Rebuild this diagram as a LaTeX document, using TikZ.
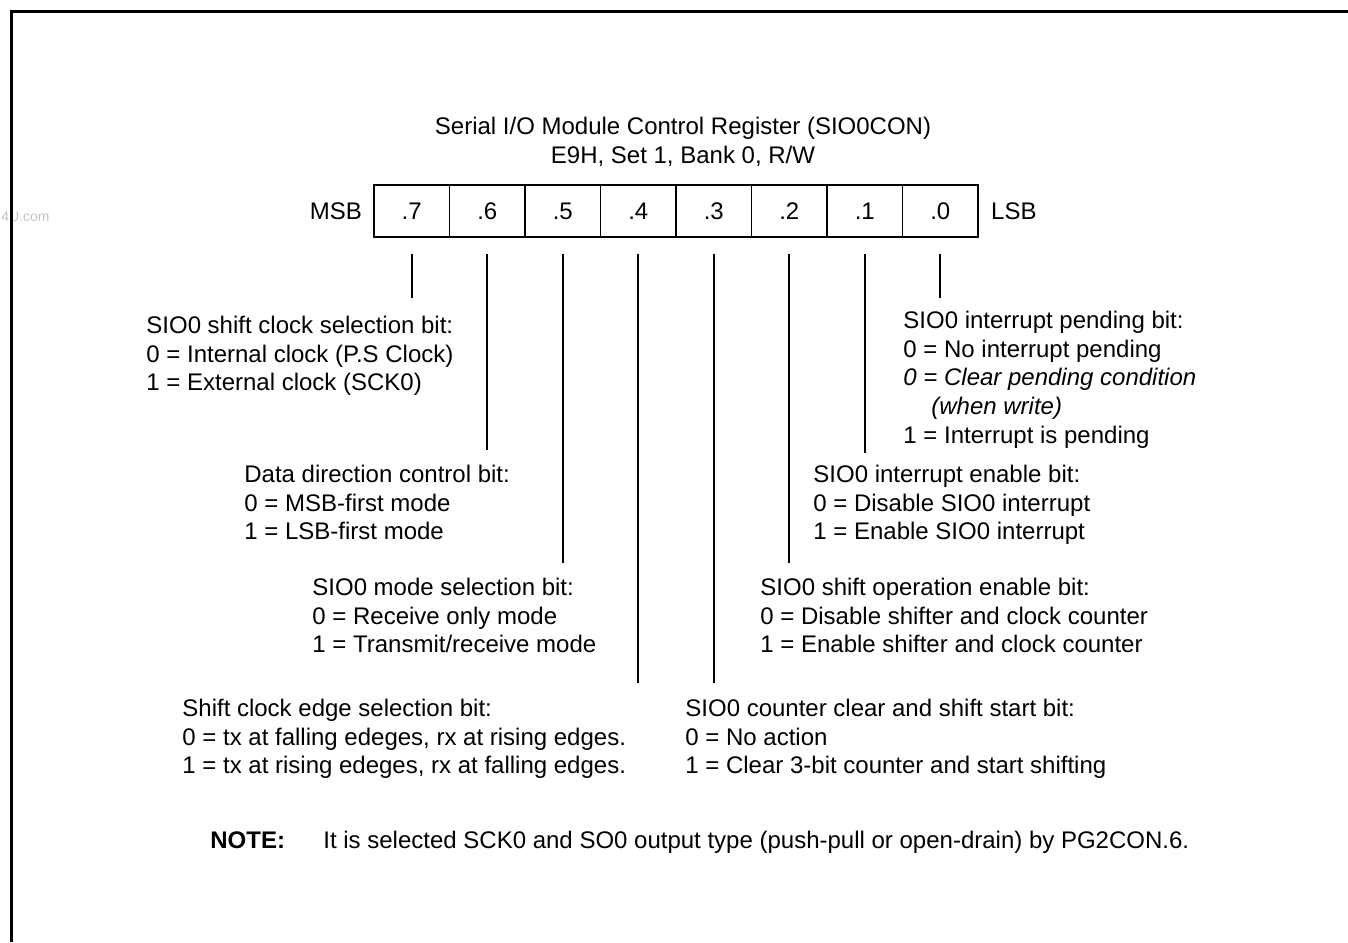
\documentclass[tikz,border=0pt]{standalone}
\usepackage{fontspec}
\setmainfont{Liberation Sans}
\usepackage{tikz}
\usetikzlibrary{positioning,calc}
\definecolor{Mark}{HTML}{C4C4C4}

\begin{document}
\begin{tikzpicture}[x=0.5pt,y=-0.5pt,
    bitcell/.style={rectangle,draw,line width=0.8pt,minimum width=37.75pt,minimum height=26pt,inner sep=0pt,font=\fontsize{12}{14.35}\selectfont},
    leader/.style={line width=0.9pt},
    desc/.style={anchor=north west,align=left,inner sep=0pt,font=\fontsize{12}{14.35}\selectfont},
    plain/.style={inner sep=0pt,font=\fontsize{12}{14.35}\selectfont}
]
\useasboundingbox (0,0) rectangle (1348,942);
\node[plain,anchor=west,text=Mark,font=\fontsize{7}{8}\selectfont] (mark) at (1,217) {4U.com};
\draw[line width=1.5pt] (11,942) -- (11,11) -- (1348,11);

% register
\node[desc,anchor=north,align=center] (title) at (683,114) {\strut Serial I/O Module Control Register (SIO0CON)\\E9H, Set 1, Bank 0, R/W};
\foreach \i in {0,...,7}{
    \node[bitcell] (b\i) at ({411.75+(7-\i)*75.5},211) {.\i};
}
\node[plain,left=5.5pt of b7] (msb) {MSB};
\node[plain,right=6pt of b0] (lsb) {LSB};

% bit descriptions
\node[desc] (d7) at (146,313) {\strut SIO0 shift clock selection bit:\\0 = Internal clock (P.S Clock)\\1 = External clock (SCK0)};
\node[desc] (d6) at (244,462) {\strut Data direction control bit:\\0 = MSB-first mode\\1 = LSB-first mode};
\node[desc] (d5) at (312,575) {\strut SIO0 mode selection bit:\\0 = Receive only mode\\1 = Transmit/receive mode};
\node[desc] (d4) at (182,696) {\strut Shift clock edge selection bit:\\0 = tx at falling edeges, rx at rising edges.\\1 = tx at rising edeges, rx at falling edges.};
\node[desc] (d3) at (685,696) {\strut SIO0 counter clear and shift start bit:\\0 = No action\\1 = Clear 3-bit counter and start shifting};
\node[desc] (d2) at (760,575) {\strut SIO0 shift operation enable bit:\\0 = Disable shifter and clock counter\\1 = Enable shifter and clock counter};
\node[desc] (d1) at (813,462) {\strut SIO0 interrupt enable bit:\\0 = Disable SIO0 interrupt\\1 = Enable SIO0 interrupt};
\node[desc] (d0) at (903,308) {\strut SIO0 interrupt pending bit:\\0 = No interrupt pending\\\textit{0 = Clear pending condition}\\\hspace*{14pt}\textit{(when write)}\\1 = Interrupt is pending};

\foreach \i/\y in {7/298,6/450,5/563,4/683,3/683,2/563,1/453,0/298}{
    \coordinate (end\i) at ({411.75+(7-\i)*75.5},\y);
    \draw[leader] ([yshift=-8pt]b\i.south) -- (end\i);
}

\node[plain,anchor=base west,font=\fontsize{12}{14.35}\selectfont\bfseries] (notehead) at (210,848) {NOTE:};
\node[plain,anchor=base west] (notetext) at (323,848) {It is selected SCK0 and SO0 output type (push-pull or open-drain) by PG2CON.6.};
\end{tikzpicture}
\end{document}
